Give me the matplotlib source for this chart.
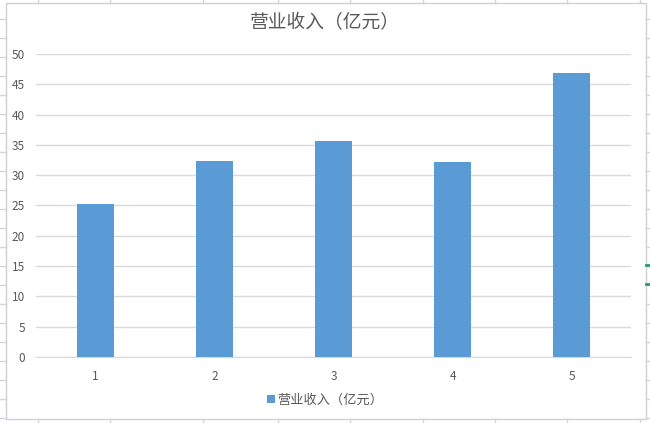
import matplotlib
matplotlib.use("Agg")
import matplotlib.pyplot as plt
from matplotlib.lines import Line2D
from matplotlib.patches import Rectangle

plt.rcParams['font.family'] = ['Noto Sans CJK SC', 'DejaVu Sans']

categories = ['1', '2', '3', '4', '5']
revenue = [25.25, 32.35, 35.65, 32.2, 46.85]
series_name = '营业收入（亿元）'
title = '营业收入（亿元）'
y_ticks = [0, 5, 10, 15, 20, 25, 30, 35, 40, 45, 50]

W, H = 650, 423
fig = plt.figure(figsize=(6.5, 4.23), dpi=100)

def px(x, y):
    return x / W, 1 - y / H

def fig_line(x0, y0, x1, y1, color='#d4d4dc', lw=1.0):
    a = px(x0, y0)
    b = px(x1, y1)
    fig.add_artist(Line2D([a[0], b[0]], [a[1], b[1]], transform=fig.transFigure,
                          color=color, lw=lw))

# spreadsheet cell lines around the chart
for y in range(19, 420, 19):
    fig_line(0, y, 6, y)
    fig_line(646, y, 650, y)
for x in [38, 110, 203, 278, 350, 423, 495, 567, 640]:
    fig_line(x, 0, x, 3)
    fig_line(x, 419, x, 423)
fig_line(646, 265, 650, 265, color='#21a366', lw=2)
fig_line(646, 284, 650, 284, color='#21a366', lw=2)

# chart border
x0, y0 = px(6, 419)
fig.add_artist(Rectangle((x0, y0), 640 / W, 416 / H, transform=fig.transFigure,
                         fill=False, edgecolor='#d0d0d8', lw=1.0))

left, right, top, bottom = 36, 631, 54, 357
ax = fig.add_axes([left / W, 1 - bottom / H, (right - left) / W, (bottom - top) / H])

xs = range(len(categories))
ax.bar(xs, revenue, width=0.31, color='#5b9bd5', zorder=3, label=series_name)
ax.set_xlim(-0.5, len(categories) - 0.5)
ax.set_ylim(0, 50)
ax.set_yticks(y_ticks)
ax.set_xticks(list(xs))
ax.set_xticklabels(categories)
ax.grid(axis='y', color='#d9d9d9', lw=1.0, zorder=0)
for s in ['top', 'right', 'left']:
    ax.spines[s].set_visible(False)
ax.spines['bottom'].set_color('#d9d9d9')
ax.tick_params(axis='both', length=0, labelsize=8.5, colors='#595959')
ax.tick_params(axis='y', pad=8)
ax.tick_params(axis='x', pad=9)

fig.text(0.5, 1 - 23 / H, title, ha='center', va='center', fontsize=13.5, color='#595959')

lx, ly = px(325, 400)
fig.legend(loc='center', bbox_to_anchor=(lx, ly), frameon=False, fontsize=9.5,
           handlelength=0.6, handleheight=0.6, handletextpad=0.2, labelcolor='#595959')

fig.savefig('out.png', dpi=100)
